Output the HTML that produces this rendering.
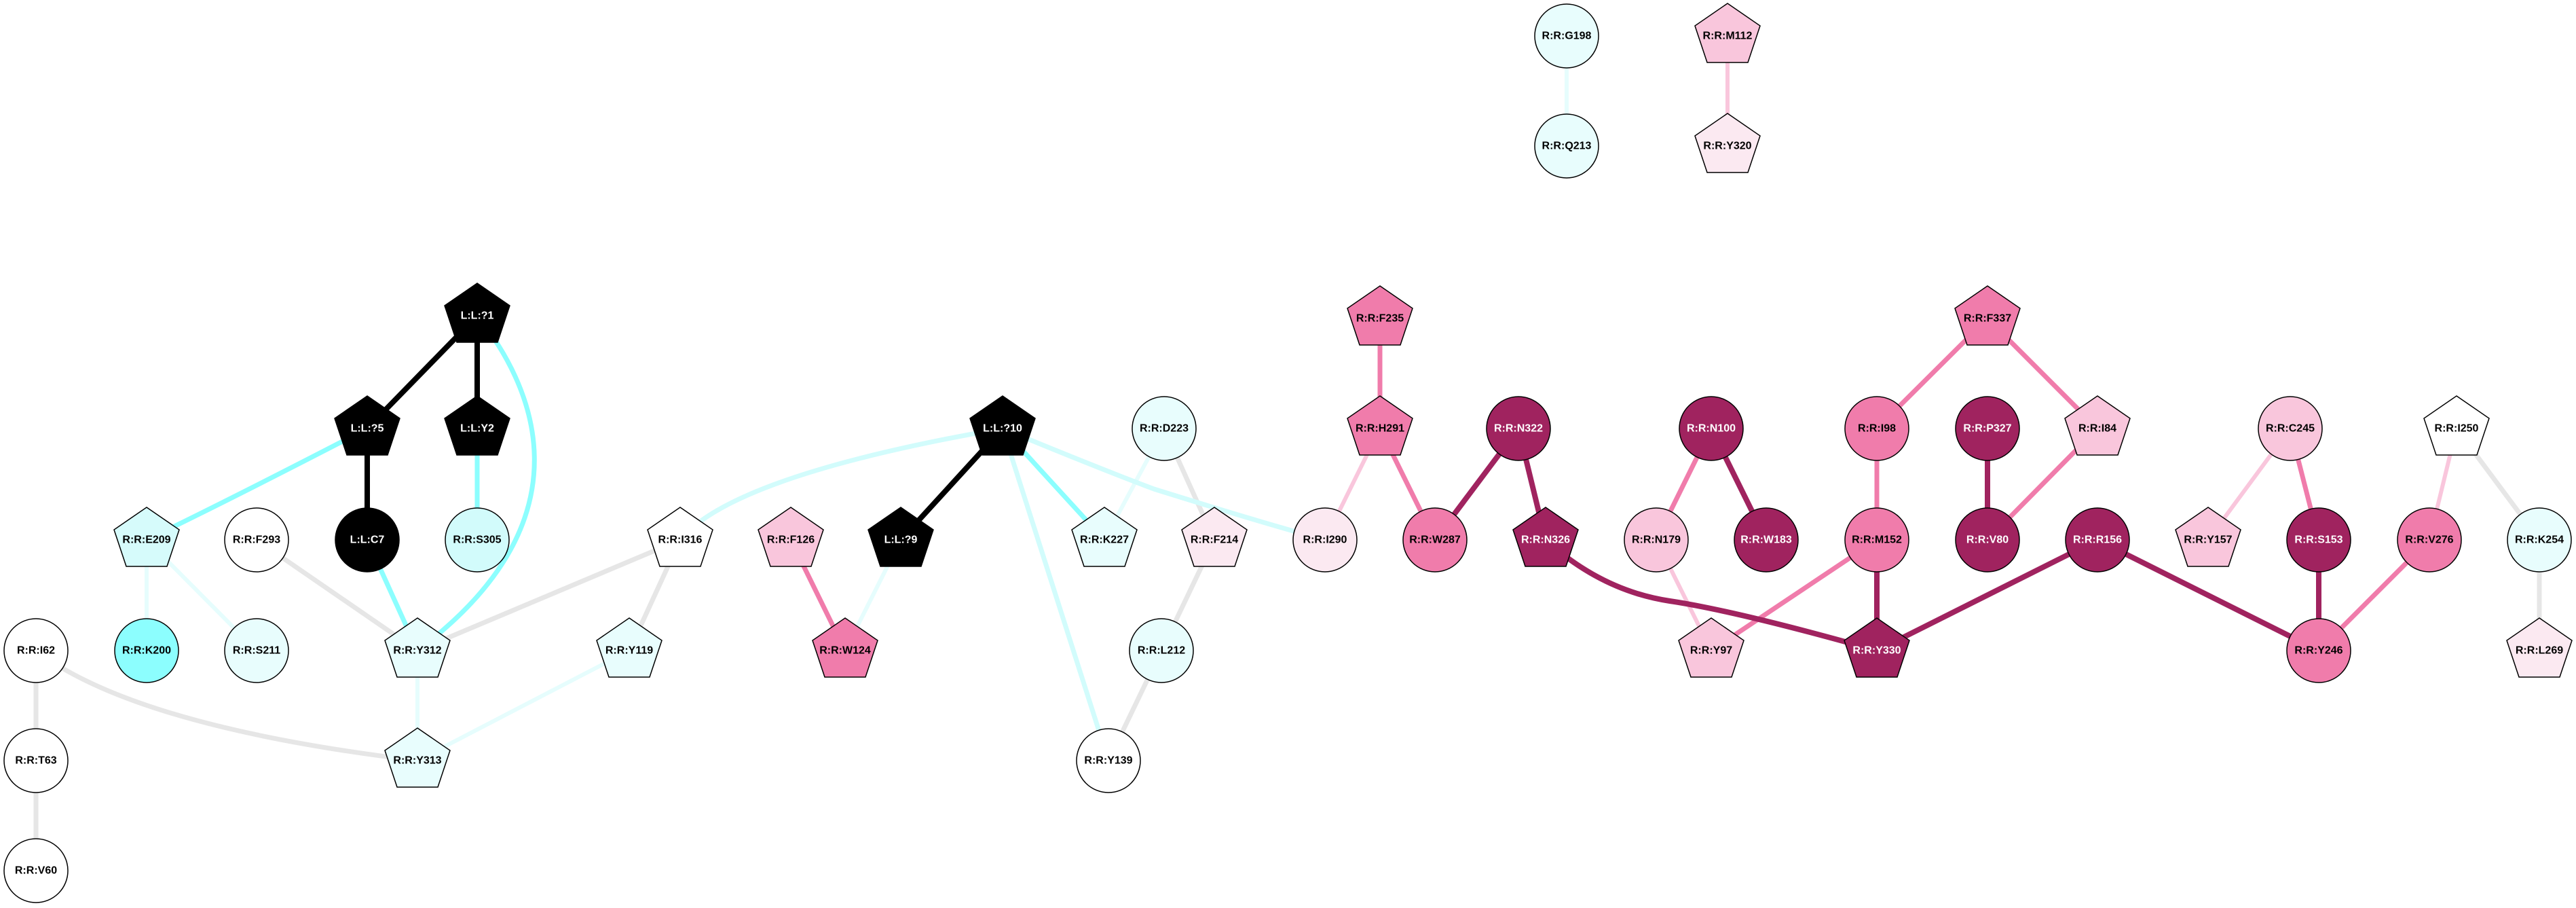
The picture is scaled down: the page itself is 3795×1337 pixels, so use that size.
<!DOCTYPE html>
<html><head><meta charset="utf-8"><style>
html,body{margin:0;padding:0;background:#fff;}
svg{display:block;}
text{font-family:"Liberation Sans",Arial,sans-serif;font-weight:bold;font-size:16px;text-anchor:middle;dominant-baseline:central;}
</style></head><body>
<svg width="3795" height="1337" viewBox="0 0 3795 1337" xmlns="http://www.w3.org/2000/svg">
<defs>
<polygon id="pg" points="0,-48 48,-15 30,39 -30,39 -48,-15"/>
</defs>
<g fill="none" stroke-linecap="butt">
<g stroke="#e6e6e6" stroke-width="7">
<line x1="378" y1="795" x2="615" y2="958"/>
<line x1="1002" y1="795" x2="615" y2="958"/>
<line x1="1002" y1="795" x2="927" y2="958"/>
<path d="M53,958 Q200,1070 615,1120"/>
<line x1="53" y1="958" x2="53" y2="1120"/>
<line x1="53" y1="1120" x2="53" y2="1282"/>
<line x1="1715" y1="631" x2="1789" y2="795"/>
<line x1="1789" y1="795" x2="1711" y2="958"/>
<line x1="1711" y1="958" x2="1633" y2="1120"/>
<line x1="3619" y1="631" x2="3741" y2="795"/>
<line x1="3741" y1="795" x2="3741" y2="958"/>
</g>
<g stroke="#e6fdfd" stroke-width="6">
<line x1="216" y1="795" x2="216" y2="958"/>
<line x1="216" y1="795" x2="378" y2="958"/>
<line x1="615" y1="958" x2="615" y2="1120"/>
<line x1="927" y1="958" x2="615" y2="1120"/>
<line x1="1327" y1="795" x2="1245" y2="958"/>
<line x1="1715" y1="631" x2="1627" y2="795"/>
<line x1="2308" y1="53" x2="2308" y2="215"/>
</g>
<g stroke="#d2fcfc" stroke-width="7">
<path d="M1002,795 Q1080,700 1477,631"/>
<path d="M1477,631 Q1620,690 1700,720 Q1860,770 1952,795"/>
<line x1="1477" y1="631" x2="1633" y2="1120"/>
</g>
<g stroke="#8cfefe" stroke-width="7">
<path d="M541,631 Q350,730 216,795"/>
<line x1="703" y1="631" x2="703" y2="795"/>
<line x1="541" y1="795" x2="615" y2="958"/>
<path d="M703,465 C780,560 880,760 615,958"/>
<line x1="1477" y1="631" x2="1627" y2="795"/>
</g>
<g stroke="#000" stroke-width="8">
<line x1="703" y1="465" x2="541" y2="631"/>
<line x1="703" y1="465" x2="703" y2="631"/>
<line x1="541" y1="631" x2="541" y2="795"/>
<line x1="1477" y1="631" x2="1327" y2="795"/>
</g>
<g stroke="#f9c6dc" stroke-width="6">
<line x1="2545" y1="53" x2="2545" y2="215"/>
<line x1="2033" y1="631" x2="1952" y2="795"/>
<line x1="2440" y1="795" x2="2521" y2="958"/>
<line x1="3374" y1="631" x2="3253" y2="795"/>
<line x1="3619" y1="631" x2="3579" y2="795"/>
</g>
<g stroke="#f07cab" stroke-width="7">
<line x1="1165" y1="795" x2="1245" y2="958"/>
<line x1="2033" y1="469" x2="2033" y2="631"/>
<line x1="2033" y1="631" x2="2114" y2="795"/>
<line x1="2521" y1="631" x2="2440" y2="795"/>
<line x1="2765" y1="795" x2="2521" y2="958"/>
<line x1="2765" y1="631" x2="2765" y2="795"/>
<line x1="2928" y1="469" x2="2765" y2="631"/>
<line x1="2928" y1="469" x2="3090" y2="631"/>
<line x1="3090" y1="631" x2="2928" y2="795"/>
<line x1="3374" y1="631" x2="3416" y2="795"/>
<line x1="3579" y1="795" x2="3416" y2="958"/>
</g>
<g stroke="#a0235f" stroke-width="8">
<line x1="2237" y1="631" x2="2114" y2="795"/>
<line x1="2237" y1="631" x2="2277" y2="795"/>
<path d="M2277,795 Q2360,870 2460,885 Q2560,900 2765,958"/>
<line x1="2521" y1="631" x2="2602" y2="795"/>
<line x1="2928" y1="631" x2="2928" y2="795"/>
<line x1="2765" y1="795" x2="2765" y2="958"/>
<line x1="3090" y1="795" x2="2765" y2="958"/>
<line x1="3090" y1="795" x2="3416" y2="958"/>
<line x1="3416" y1="795" x2="3416" y2="958"/>
</g>
</g>

<g stroke="#000" stroke-width="1.5">
<use href="#pg" x="2545" y="53" fill="#f9c6dc"/>
<use href="#pg" x="2545" y="215" fill="#fbe9f1"/>
<use href="#pg" x="703" y="465" fill="#000"/>
<use href="#pg" x="541" y="631" fill="#000"/>
<use href="#pg" x="703" y="631" fill="#000"/>
<use href="#pg" x="216" y="795" fill="#d6fbfb"/>
<use href="#pg" x="1002" y="795" fill="#fff"/>
<use href="#pg" x="1165" y="795" fill="#f9c6dc"/>
<use href="#pg" x="1327" y="795" fill="#000"/>
<use href="#pg" x="615" y="958" fill="#e8fdfd"/>
<use href="#pg" x="927" y="958" fill="#e8fdfd"/>
<use href="#pg" x="1245" y="958" fill="#f07cab"/>
<use href="#pg" x="615" y="1120" fill="#e8fdfd"/>
<use href="#pg" x="1477" y="631" fill="#000"/>
<use href="#pg" x="1627" y="795" fill="#e8fdfd"/>
<use href="#pg" x="1789" y="795" fill="#fbe9f1"/>
<use href="#pg" x="2033" y="469" fill="#f07cab"/>
<use href="#pg" x="2033" y="631" fill="#f07cab"/>
<use href="#pg" x="2277" y="795" fill="#a0235f"/>
<use href="#pg" x="2521" y="958" fill="#f9c6dc"/>
<use href="#pg" x="2765" y="958" fill="#a0235f"/>
<use href="#pg" x="2928" y="469" fill="#f07cab"/>
<use href="#pg" x="3090" y="631" fill="#f9c6dc"/>
<use href="#pg" x="3253" y="795" fill="#f9c6dc"/>
<use href="#pg" x="3619" y="631" fill="#fff"/>
<use href="#pg" x="3741" y="958" fill="#fbe9f1"/>
<circle cx="2308" cy="53" r="47" fill="#e8fdfd"/>
<circle cx="2308" cy="215" r="47" fill="#e8fdfd"/>
<circle cx="378" cy="795" r="47" fill="#fff"/>
<circle cx="541" cy="795" r="47" fill="#000"/>
<circle cx="703" cy="795" r="47" fill="#d2fbfb"/>
<circle cx="53" cy="958" r="47" fill="#fff"/>
<circle cx="216" cy="958" r="47" fill="#8cfefe"/>
<circle cx="378" cy="958" r="47" fill="#e8fdfd"/>
<circle cx="53" cy="1120" r="47" fill="#fff"/>
<circle cx="53" cy="1282" r="47" fill="#fff"/>
<circle cx="1715" cy="631" r="47" fill="#e8fdfd"/>
<circle cx="1711" cy="958" r="47" fill="#e8fdfd"/>
<circle cx="1633" cy="1120" r="47" fill="#fff"/>
<circle cx="1952" cy="795" r="47" fill="#fbe9f1"/>
<circle cx="2114" cy="795" r="47" fill="#f07cab"/>
<circle cx="2237" cy="631" r="47" fill="#a0235f"/>
<circle cx="2521" cy="631" r="47" fill="#a0235f"/>
<circle cx="2440" cy="795" r="47" fill="#f9c6dc"/>
<circle cx="2602" cy="795" r="47" fill="#a0235f"/>
<circle cx="2765" cy="631" r="47" fill="#f07cab"/>
<circle cx="2928" cy="631" r="47" fill="#a0235f"/>
<circle cx="2765" cy="795" r="47" fill="#f07cab"/>
<circle cx="2928" cy="795" r="47" fill="#a0235f"/>
<circle cx="3090" cy="795" r="47" fill="#a0235f"/>
<circle cx="3374" cy="631" r="47" fill="#f9c6dc"/>
<circle cx="3416" cy="795" r="47" fill="#a0235f"/>
<circle cx="3416" cy="958" r="47" fill="#f07cab"/>
<circle cx="3579" cy="795" r="47" fill="#f07cab"/>
<circle cx="3741" cy="795" r="47" fill="#e8fdfd"/>
</g>

<g fill="#000">
<text x="2308" y="53">R:R:G198</text>
<text x="2308" y="215">R:R:Q213</text>
<text x="2545" y="53">R:R:M112</text>
<text x="2545" y="215">R:R:Y320</text>
<text x="216" y="795">R:R:E209</text>
<text x="378" y="795">R:R:F293</text>
<text x="703" y="795">R:R:S305</text>
<text x="1002" y="795">R:R:I316</text>
<text x="1165" y="795">R:R:F126</text>
<text x="53" y="958">R:R:I62</text>
<text x="216" y="958">R:R:K200</text>
<text x="378" y="958">R:R:S211</text>
<text x="615" y="958">R:R:Y312</text>
<text x="927" y="958">R:R:Y119</text>
<text x="1245" y="958">R:R:W124</text>
<text x="53" y="1120">R:R:T63</text>
<text x="615" y="1120">R:R:Y313</text>
<text x="53" y="1282">R:R:V60</text>
<text x="1715" y="631">R:R:D223</text>
<text x="1627" y="795">R:R:K227</text>
<text x="1789" y="795">R:R:F214</text>
<text x="1711" y="958">R:R:L212</text>
<text x="1633" y="1120">R:R:Y139</text>
<text x="1952" y="795">R:R:I290</text>
<text x="2033" y="469">R:R:F235</text>
<text x="2033" y="631">R:R:H291</text>
<text x="2114" y="795">R:R:W287</text>
<text x="2440" y="795">R:R:N179</text>
<text x="2521" y="958">R:R:Y97</text>
<text x="2765" y="631">R:R:I98</text>
<text x="2765" y="795">R:R:M152</text>
<text x="2928" y="469">R:R:F337</text>
<text x="3090" y="631">R:R:I84</text>
<text x="3374" y="631">R:R:C245</text>
<text x="3253" y="795">R:R:Y157</text>
<text x="3416" y="958">R:R:Y246</text>
<text x="3579" y="795">R:R:V276</text>
<text x="3619" y="631">R:R:I250</text>
<text x="3741" y="795">R:R:K254</text>
<text x="3741" y="958">R:R:L269</text>
</g>
<g fill="#fff">
<text x="703" y="465">L:L:?1</text>
<text x="541" y="631">L:L:?5</text>
<text x="703" y="631">L:L:Y2</text>
<text x="541" y="795">L:L:C7</text>
<text x="1327" y="795">L:L:?9</text>
<text x="1477" y="631">L:L:?10</text>
<text x="2237" y="631">R:R:N322</text>
<text x="2277" y="795">R:R:N326</text>
<text x="2521" y="631">R:R:N100</text>
<text x="2602" y="795">R:R:W183</text>
<text x="2928" y="631">R:R:P327</text>
<text x="2928" y="795">R:R:V80</text>
<text x="3090" y="795">R:R:R156</text>
<text x="2765" y="958">R:R:Y330</text>
<text x="3416" y="795">R:R:S153</text>
</g>
</svg>
</body></html>
